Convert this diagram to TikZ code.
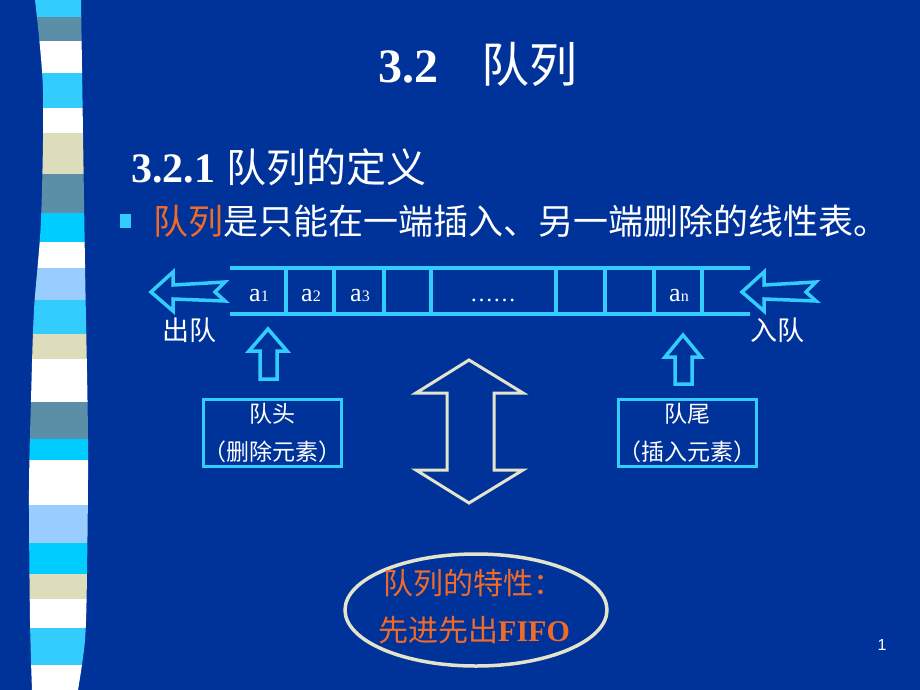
\documentclass[tikz,border=0pt]{standalone}
\usepackage{fontspec}
\setmainfont{Liberation Serif}
\newfontfamily\cjk{Noto Sans CJK SC}
\newfontfamily\pagefont{Liberation Sans}

\definecolor{slidebg}{HTML}{003399}
\definecolor{qline}{HTML}{33CCFF}
\definecolor{stripcyan}{HTML}{00CCFF}
\definecolor{stripsky}{HTML}{33CCFF}
\definecolor{stripsteel}{HTML}{5B8FA8}
\definecolor{stripbeige}{HTML}{DDDDBB}
\definecolor{stripblue}{HTML}{99CCFF}
\definecolor{keyorange}{HTML}{F06A28}
\definecolor{bigarrow}{HTML}{E4E4CC}

\newcommand{\qsub}[1]{{\fontsize{16}{16}\selectfont #1}}

\tikzset{
  slidetext/.style={text=white, inner sep=0pt},
  celltext/.style={slidetext, anchor=base, font=\fontsize{26}{26}\selectfont},
  qarrow/.style={draw=qline, line width=3.5pt, line join=miter},
  endbox/.style={draw=qline, line width=3pt, minimum width=129pt, minimum height=67pt,
    text=white, align=center, inner sep=0pt, font=\cjk\fontsize{23}{38}\selectfont},
}

\begin{document}
\begin{tikzpicture}[x=1pt,y=-1pt]

    % Slide background
    \fill[slidebg] (0,0) rectangle (920,690);
    \useasboundingbox (0,0) rectangle (920,690);

    % Draw the striped band on the left
    \begin{scope}
        \clip plot[smooth] coordinates {(35,0) (43,90) (41,220) (34,310) (31,400) (29,490) (30,620) (32,690)}
          -- plot[smooth] coordinates {(78,690) (85,640) (87,573) (88,440) (85,264) (81,0)} -- cycle;
        \fill[stripsky]   (0,0)   rectangle (100,17);
        \fill[stripsteel] (0,17)  rectangle (100,41);
        \fill[white]      (0,41)  rectangle (100,73);
        \fill[stripsky]   (0,73)  rectangle (100,108);
        \fill[white]      (0,108) rectangle (100,133);
        \fill[stripbeige] (0,133) rectangle (100,174);
        \fill[stripsteel] (0,174) rectangle (100,213);
        \fill[stripcyan]  (0,213) rectangle (100,242);
        \fill[white]      (0,242) rectangle (100,268);
        \fill[stripblue]  (0,268) rectangle (100,300);
        \fill[stripsky]   (0,300) rectangle (100,334);
        \fill[stripbeige] (0,334) rectangle (100,359);
        \fill[white]      (0,359) rectangle (100,402);
        \fill[stripsteel] (0,402) rectangle (100,439);
        \fill[stripcyan]  (0,439) rectangle (100,460);
        \fill[white]      (0,460) rectangle (100,505);
        \fill[stripblue]  (0,505) rectangle (100,543);
        \fill[stripcyan]  (0,543) rectangle (100,574);
        \fill[stripbeige] (0,574) rectangle (100,599);
        \fill[white]      (0,599) rectangle (100,628);
        \fill[stripsky]   (0,628) rectangle (100,665);
        \fill[white]      (0,665) rectangle (100,690);
    \end{scope}

    % Titles
    \node[slidetext, anchor=base west, font=\bfseries\fontsize{48}{48}\selectfont] (secnum) at (378,83) {3.2};
    \node[slidetext, anchor=base west, font=\cjk\fontsize{48}{48}\selectfont] (sectitle) at (481,83) {队列};
    \node[slidetext, anchor=base west, font=\bfseries\fontsize{42}{42}\selectfont] (subnum) at (131,182) {3.2.1};
    \node[slidetext, anchor=base west, font=\cjk\fontsize{40}{40}\selectfont] (subtitle) at (226,182) {队列的定义};

    % Bullet line
    \fill[qline] (120,214) rectangle (131,228);
    \node[slidetext, anchor=base west, font=\cjk\fontsize{35}{35}\selectfont] (defline) at (153,234)
        {\textcolor{keyorange}{队列}是只能在一端插入、另一端删除的线性表。};

    % Draw the queue cells
    \draw[qline, line width=3.5pt] (230,268) -- (750,268);
    \draw[qline, line width=3.5pt] (230,314) -- (750,314);
    \draw[qline, line width=3.5pt] (286,268) -- (286,314);
    \draw[qline, line width=3.5pt] (334,268) -- (334,314);
    \draw[qline, line width=3.5pt] (384,268) -- (384,314);
    \draw[qline, line width=3.5pt] (431,268) -- (431,314);
    \draw[qline, line width=3.5pt] (556,268) -- (556,314);
    \draw[qline, line width=3.5pt] (605,268) -- (605,314);
    \draw[qline, line width=3.5pt] (654,268) -- (654,314);
    \draw[qline, line width=3.5pt] (702,268) -- (702,314);

    % Label the cells
    \node[celltext] (a1) at (259,301) {a\qsub{1}};
    \node[celltext] (a2) at (311,301) {a\qsub{2}};
    \node[celltext] (a3) at (360,301) {a\qsub{3}};
    \node[celltext, font=\fontsize{23}{23}\selectfont] (dots) at (493,301) {……};
    \node[celltext] (an) at (679,301) {a\qsub{n}};

    % Arrows for leaving and entering
    \draw[qarrow] (151,292) -- (173,272) -- (173,285) -- (225,282) -- (215,292)
        -- (225,301) -- (173,299) -- (173,311) -- cycle;
    \draw[qarrow] (742,292) -- (764,272) -- (764,285) -- (816,282) -- (806,292)
        -- (816,301) -- (764,299) -- (764,311) -- cycle;
    \node[slidetext, font=\cjk\fontsize{27}{27}\selectfont] (dequeue) at (189,330) {出队};
    \node[slidetext, font=\cjk\fontsize{27}{27}\selectfont] (enqueue) at (777,330) {入队};

    % Up arrows to the head and tail
    \draw[qarrow] (268,329) -- (287,351) -- (277,351) -- (277,379) -- (260,379)
        -- (260,351) -- (249,351) -- cycle;
    \draw[qarrow] (683,335) -- (701,357) -- (692,357) -- (692,384) -- (675,384)
        -- (675,357) -- (665,357) -- cycle;

    % Head and tail boxes
    \node[endbox] (head) at (272,433) {队头\\（删除元素）};
    \node[endbox] (tail) at (687,433) {队尾\\（插入元素）};

    % Big double arrow
    \draw[bigarrow, line width=3pt, line join=miter] (469,360) -- (523,393) -- (494,393) -- (494,470)
        -- (523,470) -- (469,503) -- (416,470) -- (447,470) -- (447,393) -- (416,393) -- cycle;

    % Property in the ellipse
    \draw[bigarrow, line width=3.5pt] (476,610) ellipse [x radius=131, y radius=56];
    \node[inner sep=0pt, anchor=west, text=keyorange, font=\cjk\fontsize{30}{30}\selectfont] (prop) at (383,583) {队列的特性：};
    \node[inner sep=0pt, anchor=west, text=keyorange, font=\cjk\fontsize{30}{30}\selectfont] (fifo) at (378,630)
        {先进先出{\rmfamily\bfseries FIFO}};

    % Page number
    \node[slidetext, font=\pagefont\fontsize{16}{16}\selectfont] (pageno) at (882,645) {1};

\end{tikzpicture}
\end{document}
